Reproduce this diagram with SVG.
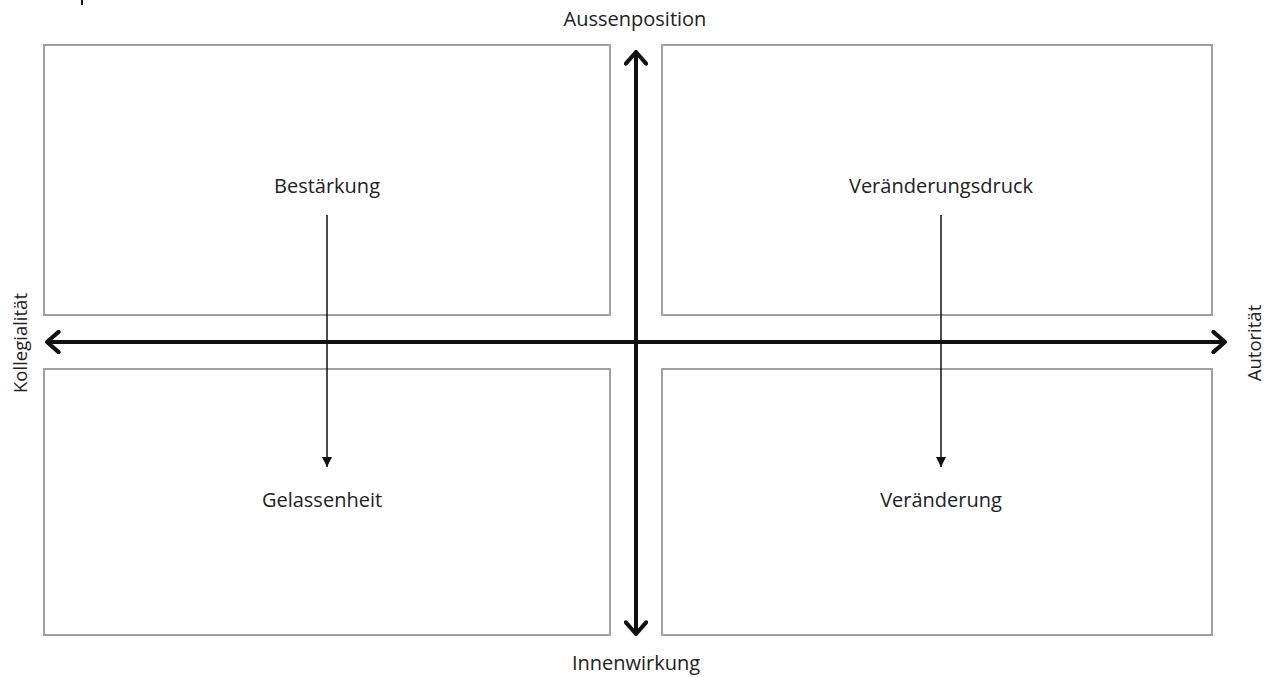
<svg xmlns="http://www.w3.org/2000/svg" width="1270" height="677" viewBox="0 0 1270 677">
<style>
.box{fill:#fff;stroke:#a0a0a0;stroke-width:2}
.t{font-family:"Open Sans","Noto Sans",sans-serif;font-size:20px;fill:#222;text-anchor:middle}
.r{font-size:18.5px}
.axis{stroke:#111;stroke-width:4;fill:none}
.thin{stroke:#111;stroke-width:1.5;fill:none}
</style>
<defs>
<marker id="chev" viewBox="0 0 12 16" refX="10" refY="8" markerWidth="4.4" markerHeight="5.8" orient="auto-start-reverse" markerUnits="strokeWidth">
<path d="M2,1 L10,8 L2,15" fill="none" stroke="#111" stroke-width="2.8" stroke-linecap="round" stroke-linejoin="round"/>
</marker>
<marker id="tri" viewBox="0 0 10 10" refX="10" refY="5" markerWidth="7" markerHeight="9" orient="auto" markerUnits="strokeWidth">
<path d="M0,0 L10,5 L0,10 Z" fill="#111"/>
</marker>
</defs>
<rect width="1270" height="677" fill="#fff"/>
<line x1="82" y1="0" x2="82" y2="5" stroke="#111" stroke-width="2"/>
<g id="q-tl"><rect class="box" x="44" y="45" width="566" height="270"/><text class="t" x="327" y="193">Bestärkung</text></g>
<g id="q-tr"><rect class="box" x="662" y="45" width="550" height="270"/><text class="t" x="941" y="193">Veränderungsdruck</text></g>
<g id="q-bl"><rect class="box" x="44" y="369" width="566" height="266"/><text class="t" x="322" y="507">Gelassenheit</text></g>
<g id="q-br"><rect class="box" x="662" y="369" width="550" height="266"/><text class="t" x="941" y="507">Veränderung</text></g>
<g id="labels">
<text class="t" x="635" y="26">Aussenposition</text>
<text class="t" x="636" y="670">Innenwirkung</text>
<text class="t r" transform="translate(27,343) rotate(-90)">Kollegialität</text>
<text class="t r" transform="translate(1261,343) rotate(-90)">Autorität</text>
</g>
<g id="connectors">
<line class="axis" x1="636" y1="52" x2="636" y2="634" marker-start="url(#chev)" marker-end="url(#chev)"/>
<line class="axis" x1="47" y1="342" x2="1225" y2="342" marker-start="url(#chev)" marker-end="url(#chev)"/>
<line class="thin" x1="327" y1="215" x2="327" y2="467" marker-end="url(#tri)"/>
<line class="thin" x1="941" y1="215" x2="941" y2="467" marker-end="url(#tri)"/>
</g>
</svg>
